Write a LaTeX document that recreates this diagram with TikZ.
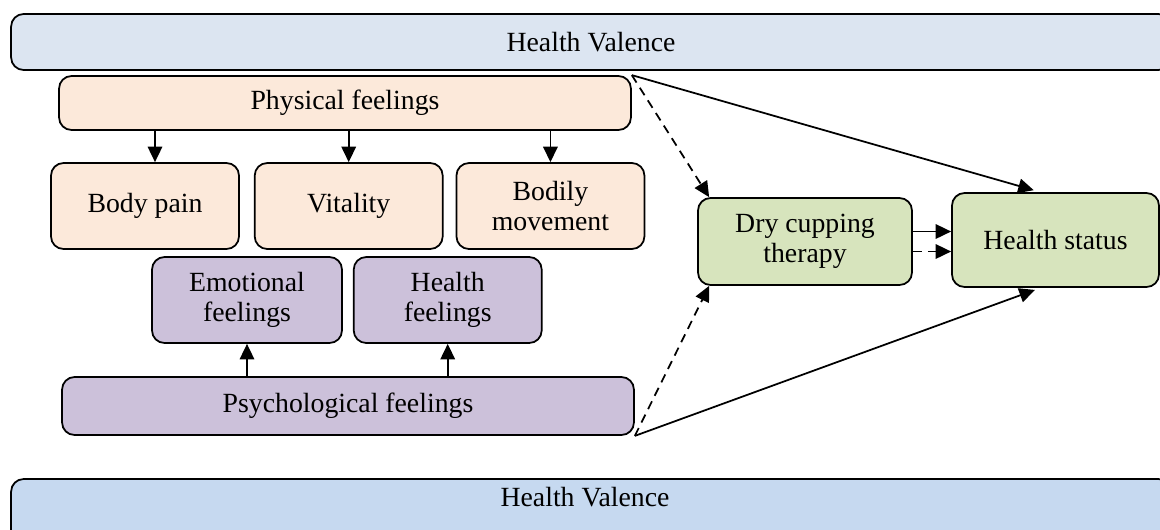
\documentclass[tikz,border=0pt]{standalone}
\usepackage{fontspec}
\setmainfont{Liberation Serif}
\usetikzlibrary{arrows.meta,positioning}
\definecolor{valenceTopBlue}{RGB}{220, 229, 241}
\definecolor{valenceBottomBlue}{RGB}{198, 217, 240}
\definecolor{feelPeach}{RGB}{252, 233, 218}
\definecolor{feelLilac}{RGB}{204, 193, 218}
\definecolor{outcomeSage}{RGB}{215, 228, 189}

\begin{document}
\begin{tikzpicture}[
  x=0.02cm,y=-0.02cm,
  featbox/.style={draw,line width=1pt,rounded corners=0.25cm,align=center,inner sep=2pt,font=\fontsize{15.8}{16.8}\selectfont},
  physbox/.style={featbox,fill=feelPeach},
  psychbox/.style={featbox,fill=feelLilac},
  outcomebox/.style={featbox,fill=outcomeSage},
  valencebar/.style={featbox,minimum width=23.2cm},
  arrow/.style={-{Triangle[length=3.1mm,width=2.9mm]},line width=1pt},
  dasharrow/.style={arrow,dash pattern=on 5pt off 3.5pt}
]
  \useasboundingbox (0,0) rectangle (1160,529);
  \clip (0,0) rectangle (1160,529);
  % valence bars
  \node[valencebar,fill=valenceTopBlue,minimum height=1.12cm] (topvalence) at (591,42) {Health Valence};
  \node[valencebar,fill=valenceBottomBlue,minimum height=2.6cm] (bottomvalence) at (591,544) {};
  \node[font=\fontsize{15.8}{16.8}\selectfont] (bottomlabel) at (585,497) {Health Valence};
  % physical side
  \node[physbox,minimum width=11.44cm,minimum height=1.08cm] (physical) at (345,103) {Physical feelings};
  \node[physbox,minimum width=3.76cm,minimum height=1.72cm] (bodypain) at (145,206) {Body pain};
  \node[physbox,minimum width=3.76cm,minimum height=1.72cm,right=0.28cm of bodypain] (vitality) {Vitality};
  \node[physbox,minimum width=3.76cm,minimum height=1.72cm,right=0.24cm of vitality] (bodily) {Bodily\\movement};
  % psychological side
  \node[psychbox,minimum width=3.8cm,minimum height=1.72cm] (emotional) at (247,300) {Emotional\\feelings};
  \node[psychbox,minimum width=3.76cm,minimum height=1.72cm,right=0.2cm of emotional] (healthfeel) {Health\\feelings};
  \node[psychbox,minimum width=11.44cm,minimum height=1.16cm] (psych) at (348,406) {Psychological feelings};
  % outcome side
  \node[outcomebox,minimum width=4.28cm,minimum height=1.74cm] (cupping) at (805,241.5) {Dry cupping\\therapy};
  \node[outcomebox,minimum width=4.14cm,minimum height=1.88cm] (status) at (1055.5,240) {Health status};

  \draw[arrow] ([xshift=0.2cm]physical.south -| bodypain.north) -- ([xshift=0.2cm]bodypain.north);
  \draw[arrow] (physical.south -| vitality.north) -- (vitality.north);
  \draw[arrow] (physical.south -| bodily.north) -- (bodily.north);
  \draw[arrow] (psych.north -| emotional.south) -- (emotional.south);
  \draw[arrow] (psych.north -| healthfeel.south) -- (healthfeel.south);

  \draw[dasharrow] (physical.north east) -- ([xshift=0.24cm]cupping.north west);
  \draw[dasharrow] (psych.south east) -- ([xshift=0.24cm]cupping.south west);
  \draw[arrow,shorten >=1.4mm] (physical.north east) -- ([xshift=-0.3cm]status.north);
  \draw[arrow,shorten >=1.2mm] (psych.south east) -- ([xshift=-0.3cm]status.south);
  \draw[arrow] ([yshift=0.2cm]cupping.east) -- ([yshift=0.2cm]cupping.east -| status.west);
  \draw[dasharrow] ([yshift=-0.2cm]cupping.east) -- ([yshift=-0.2cm]cupping.east -| status.west);
\end{tikzpicture}
\end{document}
